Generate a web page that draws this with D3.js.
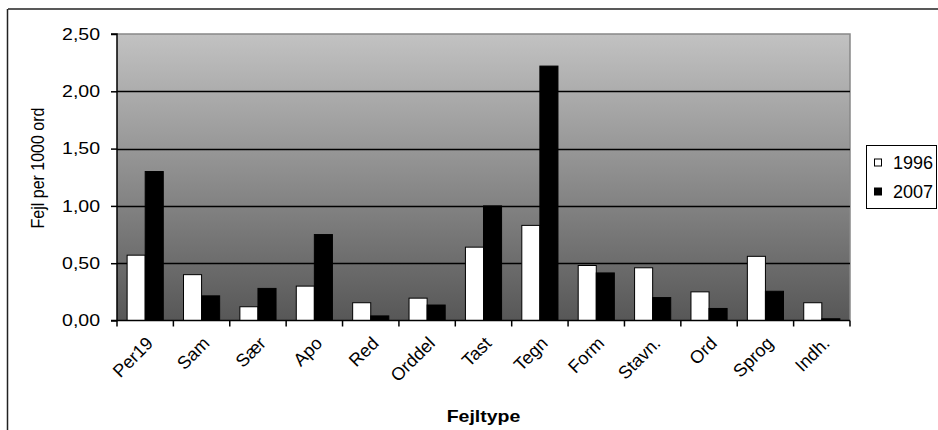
<!DOCTYPE html>
<html><head><meta charset="utf-8">
<script src="https://cdn.jsdelivr.net/npm/d3@7"></script>
<style>body{margin:0;background:#fff}svg{display:block}text{font-family:"Liberation Sans",Arial,sans-serif}</style>
</head><body>
<script>
const categories = ["Per19","Sam","Sær","Apo","Red","Orddel","Tast","Tegn","Form","Stavn.","Ord","Sprog","Indh."];
const series = ["1996","2007"];
const values1996 = [0.57,0.40,0.12,0.30,0.155,0.195,0.64,0.83,0.48,0.46,0.25,0.56,0.155];
const values2007 = [1.30,0.215,0.28,0.75,0.04,0.135,1.00,2.22,0.415,0.20,0.105,0.255,0.015];
const yTicks = [0,0.5,1,1.5,2,2.5];
const colors = ["#ffffff","#000000"];

const W=938,H=430, SX=1.22;
const svg=d3.select("body").append("svg").attr("width",W).attr("height",H);
const L=117,R=850,T=34,B=320.5;

// outer frame
svg.append("line").attr("x1",8).attr("x2",W).attr("y1",9).attr("y2",9).attr("stroke","#222").attr("stroke-width",1.5);
svg.append("line").attr("x1",7.5).attr("x2",7.5).attr("y1",9).attr("y2",H).attr("stroke","#222").attr("stroke-width",1.5);

const defs=svg.append("defs");
const g=defs.append("linearGradient").attr("id","bg").attr("x1",0).attr("x2",0).attr("y1",0).attr("y2",1);
g.append("stop").attr("offset","0%").attr("stop-color","#c2c2c2");
g.append("stop").attr("offset","100%").attr("stop-color","#575757");

const x=d3.scaleBand().domain(categories).range([L,R]).padding(0);
const x1=d3.scaleBand().domain(series).range([0,x.bandwidth()]).paddingInner(0).paddingOuter(0.56);
const y=d3.scaleLinear().domain([0,2.5]).range([B,T]);

svg.append("rect").attr("x",L).attr("y",T).attr("width",R-L).attr("height",B-T).attr("fill","url(#bg)");
svg.append("path").attr("d",`M${L},${T}H${R}V${B}`).attr("fill","none").attr("stroke","#888").attr("stroke-width",1.5);

svg.append("g").selectAll("line").data(yTicks.filter(v=>v>0&&v<2.5)).join("line")
  .attr("x1",L).attr("x2",R).attr("y1",d=>Math.round(y(d))+0.5).attr("y2",d=>Math.round(y(d))+0.5)
  .attr("stroke","#000").attr("stroke-width",1.3);

const data=categories.map((c,i)=>({c,vals:[values1996[i],values2007[i]]}));
const grp=svg.append("g").selectAll("g").data(data).join("g").attr("transform",d=>`translate(${x(d.c)},0)`);
grp.selectAll("rect").data(d=>d.vals.map((v,j)=>({s:series[j],v,j}))).join("rect")
  .attr("x",d=>x1(d.s)).attr("width",x1.bandwidth())
  .attr("y",d=>y(d.v)).attr("height",d=>B-y(d.v))
  .attr("fill",d=>colors[d.j]).attr("stroke","#000").attr("stroke-width",1);

// y axis
const ya=svg.append("g").attr("transform",`translate(${L},0)`)
  .call(d3.axisLeft(y).tickValues(yTicks).tickSize(6).tickPadding(11).tickFormat(d=>d3.format(".2f")(d).replace(".",",")));
ya.select(".domain").attr("stroke","#000").attr("stroke-width",1.5).attr("d",`M-6,${T}H0V${B}H-6`);
ya.selectAll(".tick line").attr("stroke","#000").attr("stroke-width",1.5);
ya.selectAll("text").attr("x",0).attr("transform",`translate(-17,0) scale(${SX},1)`)
  .attr("font-size",16).attr("fill","#000").attr("font-family","Liberation Sans, Arial, sans-serif");

// x axis
const xa=svg.append("g").attr("transform",`translate(0,${B})`);
xa.append("line").attr("x1",L).attr("x2",R).attr("y1",0).attr("y2",0).attr("stroke","#000").attr("stroke-width",1.5);
const bounds=categories.map(c=>x(c)).concat([R]);
xa.selectAll("line.t").data(bounds).join("line").attr("class","t")
  .attr("x1",d=>d).attr("x2",d=>d).attr("y1",0).attr("y2",6).attr("stroke","#000").attr("stroke-width",1.5);
xa.selectAll("text").data(categories).join("text")
  .attr("transform",d=>`translate(${x(d)+x.bandwidth()/2+9},${24}) rotate(-45)`)
  .attr("text-anchor","end").attr("font-size",18).attr("fill","#000").text(d=>d);

svg.append("text").attr("transform",`translate(${(L+R)/2},422) scale(${SX},1)`).attr("text-anchor","middle")
  .attr("font-size",16).attr("font-weight","bold").text("Fejltype");
svg.append("text").attr("transform",`translate(44,168) scale(1.1,1) rotate(-90)`).attr("text-anchor","middle")
  .attr("font-size",16).text("Fejl per 1000 ord");

// legend
const lg=svg.append("g");
lg.append("rect").attr("x",866.5).attr("y",145.5).attr("width",70).attr("height",63).attr("fill","#fff").attr("stroke","#000").attr("stroke-width",1);
series.forEach((s,i)=>{
  const cy=162.5+i*29;
  lg.append("rect").attr("x",874.5).attr("y",cy-3.5).attr("width",7).attr("height",7).attr("fill",colors[i]).attr("stroke","#000").attr("stroke-width",1);
  lg.append("text").attr("x",893).attr("y",cy+6.5).attr("font-size",18).text(s);
});
</script>
</body></html>
